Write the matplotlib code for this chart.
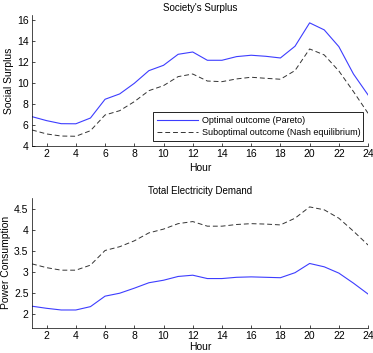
import matplotlib
matplotlib.use("Agg")
import matplotlib.pyplot as plt

hours = list(range(1, 25))

surplus_pareto = [6.8, 6.42, 6.13, 6.12, 6.67, 8.46, 8.97, 9.98, 11.19, 11.7, 12.75, 12.97,
                  12.18, 12.18, 12.53, 12.66, 12.56, 12.4, 13.52, 15.75, 15.08, 13.48, 10.87, 8.87]
surplus_nash = [5.53, 5.15, 4.95, 4.93, 5.46, 6.96, 7.37, 8.23, 9.28, 9.76, 10.62, 10.87,
                10.2, 10.14, 10.4, 10.56, 10.46, 10.37, 11.2, 13.26, 12.69, 11.16, 9.19, 7.12]

demand_pareto = [2.18, 2.13, 2.09, 2.09, 2.17, 2.42, 2.49, 2.61, 2.74, 2.8, 2.89, 2.92,
                 2.84, 2.84, 2.87, 2.88, 2.87, 2.86, 2.98, 3.2, 3.12, 2.97, 2.73, 2.47]
demand_nash = [3.19, 3.1, 3.04, 3.04, 3.16, 3.51, 3.6, 3.74, 3.93, 4.02, 4.15, 4.2,
               4.09, 4.09, 4.13, 4.15, 4.14, 4.12, 4.28, 4.55, 4.48, 4.28, 3.97, 3.64]

xticks = list(range(2, 25, 2))

plt.rcParams["font.family"] = ["Liberation Sans", "DejaVu Sans"]
plt.rcParams["font.size"] = 7.5

fig = plt.figure(figsize=(3.73, 3.53), dpi=100)
ax1 = fig.add_axes([0.0858, 0.5864, 0.901, 0.3711])
ax2 = fig.add_axes([0.0858, 0.072, 0.901, 0.368])

for ax in (ax1, ax2):
    ax.spines["top"].set_visible(False)
    ax.spines["right"].set_visible(False)
    ax.spines["left"].set_linewidth(0.5)
    ax.spines["bottom"].set_linewidth(0.5)
    ax.set_xlim(1, 24)
    ax.set_xticks(xticks)
    ax.tick_params(direction="in", length=2.5, width=0.5, pad=2.5)

ax1.set_xlabel("Hour", labelpad=2.5)
ax2.set_xlabel("Hour", labelpad=0.5)

blue = "#3d3dff"
dash_col = "#333333"

ax1.plot(hours, surplus_pareto, color=blue, lw=0.8, label="Optimal outcome (Pareto)")
ax1.plot(hours, surplus_nash, color=dash_col, lw=0.7, dashes=(5, 3),
         label="Suboptimal outcome (Nash equilibrium)")
ax1.set_ylim(4, 16.5)
ax1.set_yticks([4, 6, 8, 10, 12, 14, 16])
ax1.set_ylabel("Social Surplus", labelpad=2)
ax1.set_title("Society's Surplus", fontsize=7, pad=3)
leg = ax1.legend(loc="lower left", bbox_to_anchor=(0.36, 0.038, 0.625, 0.2), mode="expand",
                 fancybox=False, edgecolor="black", framealpha=1, fontsize=6.5,
                 borderpad=0.4, labelspacing=0.4, handlelength=4.6, handletextpad=0.4,
                 borderaxespad=0)
leg.get_frame().set_linewidth(0.6)

ax2.plot(hours, demand_pareto, color=blue, lw=0.8)
ax2.plot(hours, demand_nash, color=dash_col, lw=0.7, dashes=(5, 3))
ax2.set_ylim(1.67, 4.77)
ax2.set_yticks([2, 2.5, 3, 3.5, 4, 4.5])
ax2.set_yticklabels(["2", "2.5", "3", "3.5", "4", "4.5"])
ax2.set_ylabel("Power Consumption", labelpad=2)
ax2.set_title("Total Electricity Demand", fontsize=7, pad=3)

fig.savefig("out.png", dpi=100)
